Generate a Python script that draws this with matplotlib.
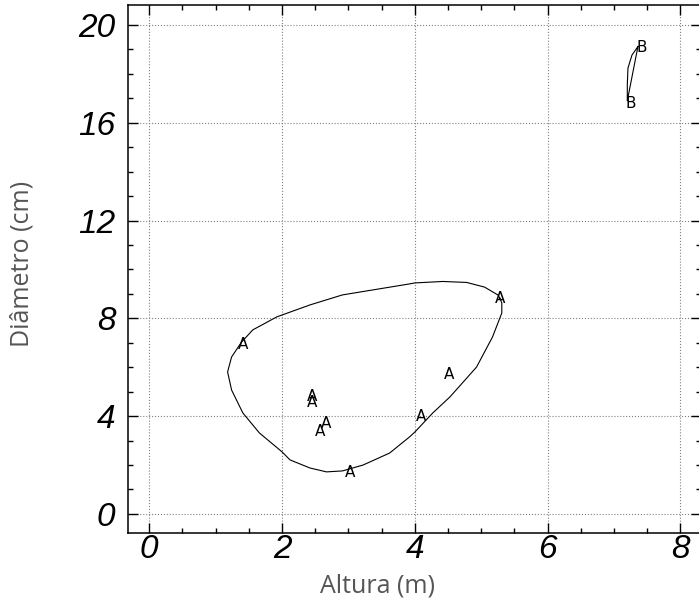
import numpy as np
import matplotlib
matplotlib.use('Agg')
from matplotlib import pyplot as plt
from matplotlib.ticker import MultipleLocator

# contour around group A (data coords, closed path)
curve_a_x = [5.28, 5.25, 5.05, 4.78, 4.42, 4.00, 3.92, 2.91, 2.42, 1.92, 1.56, 1.39, 1.24, 1.18,
             1.24, 1.41, 1.66, 2.00, 2.12, 2.42, 2.67, 2.91, 3.22, 3.62, 3.92, 4.00, 4.27, 4.53,
             4.93, 5.17, 5.31, 5.31, 5.28]
curve_a_y = [8.83, 8.96, 9.28, 9.47, 9.51, 9.45, 9.41, 8.96, 8.55, 8.06, 7.53, 7.03, 6.42, 5.81,
             5.07, 4.13, 3.31, 2.54, 2.21, 1.88, 1.72, 1.76, 2.00, 2.49, 3.15, 3.35, 4.13, 4.79,
             6.01, 7.24, 8.22, 8.63, 8.83]

# contour around group B
curve_b_x = [7.36, 7.27, 7.21, 7.20, 7.20, 7.36]
curve_b_y = [19.12, 18.77, 18.24, 17.55, 16.90, 19.12]

# labelled points
pts_a_x = [1.41, 2.45, 2.45, 2.66, 2.58, 3.02, 4.09, 4.51, 5.28]
pts_a_y = [6.95, 4.79, 4.54, 3.68, 3.39, 1.68, 3.97, 5.69, 8.83]
pts_b_x = [7.42, 7.25]
pts_b_y = [19.10, 16.81]

fig = plt.figure(figsize=(6.99, 6.05), dpi=100)
ax = fig.add_axes([128/699, 72/605, 573/699, 528/605])

ax.plot(curve_a_x, curve_a_y, color='black', lw=0.8)
ax.plot(curve_b_x, curve_b_y, color='black', lw=0.8)
for x, y in zip(pts_a_x, pts_a_y):
    ax.text(x, y, 'A', ha='center', va='center', fontsize=11, family='DejaVu Sans')
for x, y in zip(pts_b_x, pts_b_y):
    ax.text(x, y, 'B', ha='center', va='center', fontsize=11, family='DejaVu Sans')

ax.set_xlim(-0.32, 8.31)
ax.set_ylim(-0.78, 20.82)
ax.xaxis.set_major_locator(MultipleLocator(2))
ax.xaxis.set_minor_locator(MultipleLocator(0.5))
ax.yaxis.set_major_locator(MultipleLocator(4))
ax.yaxis.set_minor_locator(MultipleLocator(1))
ax.tick_params(which='both', direction='in', top=True, right=True, width=1, color='black')
ax.tick_params(which='major', length=7.2)
ax.tick_params(which='minor', length=3.6)
ax.tick_params(axis='x', which='major', pad=1)
ax.tick_params(axis='y', which='major', pad=9)
for lab in ax.get_xticklabels() + ax.get_yticklabels():
    lab.set_fontsize(24)
    lab.set_fontstyle('italic')
    lab.set_family('Liberation Sans')
for s in ax.spines.values():
    s.set_linewidth(1.1)

ax.grid(True, which='major', linestyle=':', color='gray', lw=0.8)

ax.set_xlabel('Altura (m)', fontsize=18, color='#555555', family='Open Sans', va='center')
ax.set_ylabel('Diâmetro (cm)', fontsize=18, color='#555555', family='Open Sans', va='center')
ax.xaxis.set_label_coords(0.436, -0.1)
ax.yaxis.set_label_coords(-0.185, 0.51)

fig.savefig('out.png', dpi=100)
